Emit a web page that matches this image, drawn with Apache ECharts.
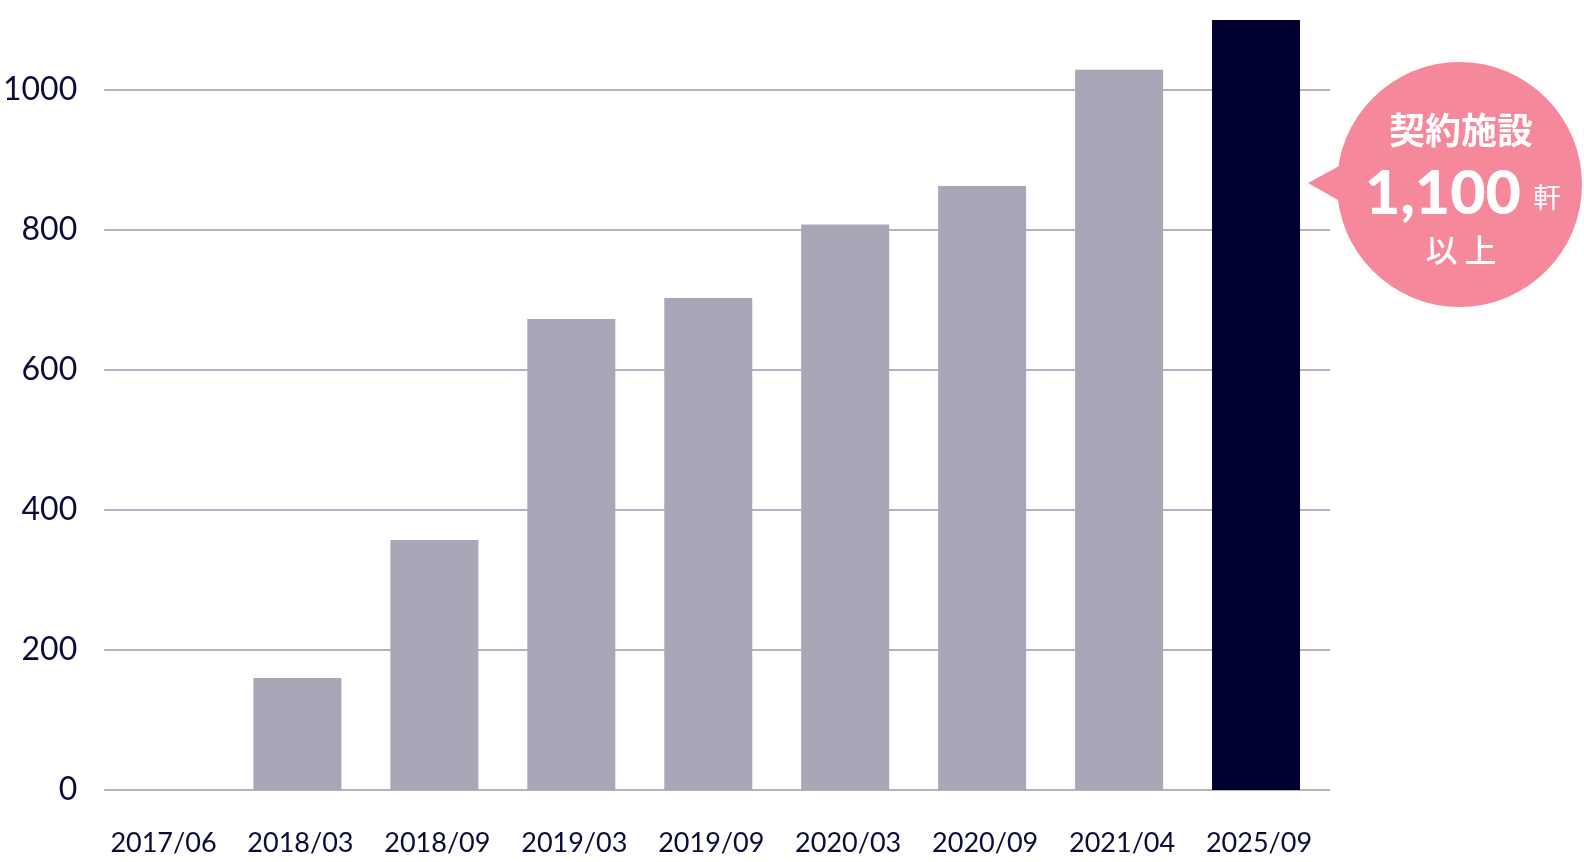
<!DOCTYPE html>
<html>
<head>
<meta charset="utf-8">
<script src="https://cdn.jsdelivr.net/npm/echarts@6/dist/echarts.min.js"></script>
<style>
html,body{margin:0;padding:0;background:#fff;}
#chart{width:1584px;height:862px;}
</style>
</head>
<body>
<div id="chart"></div>
<script>
const categories = ['2017/06','2018/03','2018/09','2019/03','2019/09','2020/03','2020/09','2021/04','2025/09'];
const facilities = [0, 160, 357, 673, 703, 808, 863, 1029, 1100];
const yTicks = [0, 200, 400, 600, 800, 1000];
const calloutTitle = '契約施設';
const calloutValue = '1,100';
const calloutUnit = '軒';
const calloutSuffix = '以 上';

const grey = '#a8a7b7';
const navy = '#000030';
const textColor = '#0b0b38';
const pink = '#f5889b';
const latin = 'Lato, "Noto Sans", sans-serif';
const cjk = '"Noto Sans CJK JP", sans-serif';

const chart = echarts.init(document.getElementById('chart'));
chart.setOption({
  animation: false,
  backgroundColor: '#fff',
  grid: [
    {left: 102, right: 254, top: 90, bottom: 72},
    {left: 92, right: 259.5, top: 20, bottom: 72}
  ],
  xAxis: [
    {gridIndex: 0, type: 'value', show: false},
    {
      gridIndex: 1, type: 'category', data: categories,
      axisLine: {show: false}, axisTick: {show: false},
      axisLabel: {interval: 0, hideOverlap: false, color: textColor, fontFamily: latin, fontSize: 27, margin: 40, padding: [0, 0, 0, 6]}
    }
  ],
  yAxis: [
    {
      gridIndex: 0, type: 'value', min: yTicks[0], max: yTicks[yTicks.length - 1], interval: 200,
      axisLine: {show: false}, axisTick: {show: false},
      axisLabel: {color: textColor, fontFamily: latin, fontSize: 32, margin: 27, formatter: v => String(v)},
      splitLine: {show: true, lineStyle: {color: '#b3b2c2', width: 2}}
    },
    {gridIndex: 1, type: 'value', min: 0, max: 1100, show: false, splitLine: {show: false}}
  ],
  series: [{
    type: 'bar',
    xAxisIndex: 1, yAxisIndex: 1,
    barWidth: 88,
    data: facilities.map((v, i) => ({
      value: v,
      itemStyle: {color: i === facilities.length - 1 ? navy : grey}
    }))
  }],
  graphic: [
    {type: 'polygon', shape: {points: [[1308, 183], [1352, 159], [1352, 208]]}, style: {fill: pink}},
    {type: 'circle', shape: {cx: 1459.5, cy: 184.5, r: 122.5}, style: {fill: pink}},
    {type: 'text', x: 1461, y: 130, style: {text: calloutTitle, fill: '#fff', font: 'bold 36px ' + cjk, align: 'center', verticalAlign: 'middle'}},
    {type: 'text', x: 1443, y: 194, style: {text: calloutValue, fill: '#fff', font: '900 61px ' + latin, align: 'center', verticalAlign: 'middle'}},
    {type: 'text', x: 1547, y: 197, style: {text: calloutUnit, fill: '#fff', font: '28px ' + cjk, align: 'center', verticalAlign: 'middle'}},
    {type: 'text', x: 1461, y: 250, style: {text: calloutSuffix, fill: '#fff', font: '500 32px ' + cjk, align: 'center', verticalAlign: 'middle'}}
  ]
});
</script>
</body>
</html>
